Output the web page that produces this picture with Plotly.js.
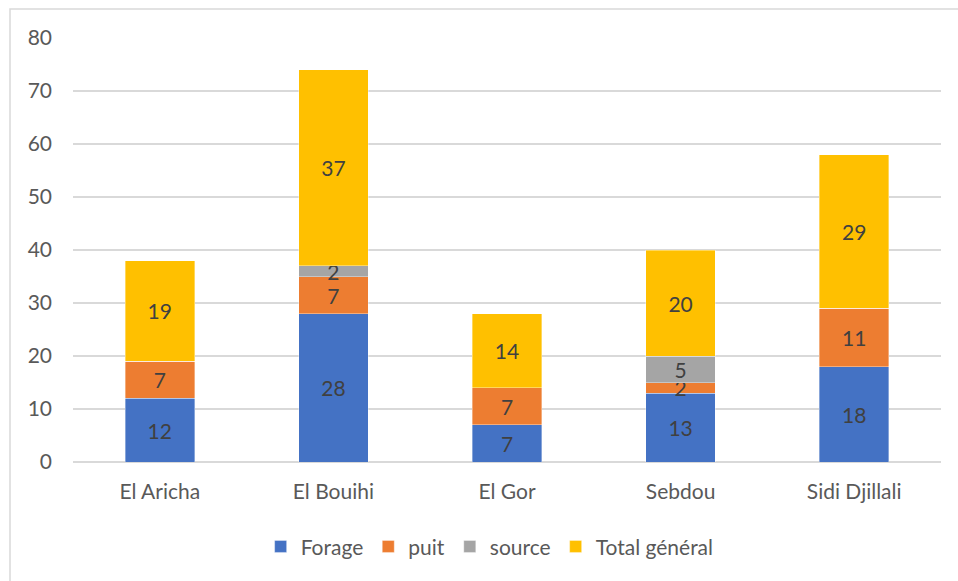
<!DOCTYPE html>
<html>
<head>
<meta charset="utf-8">
<script src="https://cdn.plot.ly/plotly-3.0.1.min.js"></script>
<style>html,body{margin:0;padding:0;background:#fff;}#chart{width:958px;height:581px;}</style>
</head>
<body>
<div id="chart"></div>
<script>
const categories = ['El Aricha', 'El Bouihi', 'El Gor', 'Sebdou', 'Sidi Djillali'];
const forage = [12, 28, 7, 13, 18];
const puit = [7, 7, 7, 2, 11];
const source = [0, 2, 0, 5, 0];
const totalGeneral = [19, 37, 14, 20, 29];
const seriesNames = ['Forage', 'puit', 'source', 'Total général'];
const yTicks = [0, 10, 20, 30, 40, 50, 60, 70, 80];

const colors = ['#4472C4', '#ED7D31', '#A5A5A5', '#FFC000'];
const FONT = 'Lato, "Open Sans", sans-serif';
const allSeries = [forage, puit, source, totalGeneral];

const traces = allSeries.map((vals, i) => ({
  type: 'bar',
  name: seriesNames[i],
  x: categories,
  y: vals,
  text: vals.map(v => v ? String(v) : ''),
  textposition: 'inside',
  insidetextanchor: 'middle',
  constraintext: 'none',
  textangle: 0,
  textfont: {family: FONT, size: 21, color: '#404040'},
  marker: {color: colors[i], line: {color: 'rgba(255,255,255,0.6)', width: 0.6}},
  hoverinfo: 'x+y+name'
}));

const layout = {
  width: 958, height: 581,
  margin: {l: 73, r: 17, t: 38, b: 119},
  paper_bgcolor: '#ffffff', plot_bgcolor: '#ffffff',
  barmode: 'stack',
  bargap: 0.6,
  font: {family: FONT, color: '#595959', size: 21},
  showlegend: true,
  legend: {orientation: 'h', x: 0.48, xanchor: 'center', y: -0.2, yanchor: 'middle',
           itemwidth: 30, font: {family: FONT, size: 21, color: '#595959'}, traceorder: 'normal'},
  xaxis: {type: 'category', showgrid: false, showline: false, zeroline: false, ticks: '',
          ticklabelstandoff: 15, tickfont: {family: FONT, size: 21, color: '#595959'}},
  yaxis: {range: [0, 80], tickvals: yTicks, ticktext: yTicks.map(String),
          showgrid: true, gridcolor: '#D9D9D9', gridwidth: 1.3, zeroline: true, zerolinecolor: '#D9D9D9', zerolinewidth: 1.3,
          showline: false, ticks: '', ticklabelstandoff: 20,
          tickfont: {family: FONT, size: 21, color: '#595959'}},
  shapes: [{type: 'rect', xref: 'paper', yref: 'paper', layer: 'below',
            x0: (10 - 73) / 868, x1: (975 - 73) / 868, y0: (462 - 600) / 424, y1: (462 - 9) / 424,
            line: {color: '#D9D9D9', width: 1.5}, fillcolor: 'rgba(0,0,0,0)'}]
};

Plotly.newPlot('chart', traces, layout, {displayModeBar: false, staticPlot: true});
</script>
</body>
</html>
